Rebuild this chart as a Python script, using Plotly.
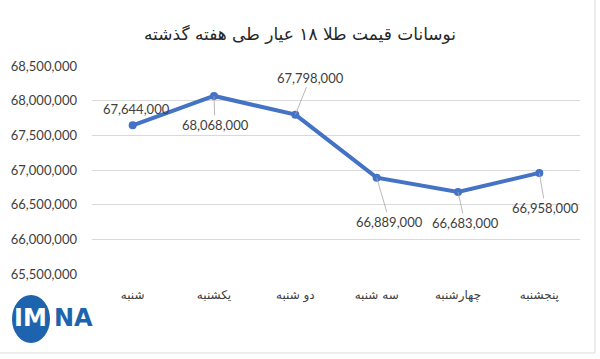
import plotly.graph_objects as go

categories = ["شنبه", "یکشنبه", "دو شنبه", "سه شنبه", "چهارشنبه", "پنجشنبه"]
prices = [67644000, 68068000, 67798000, 66889000, 66683000, 66958000]
title_text = "نوسانات قیمت طلا ۱۸ عیار طی هفته گذشته"
y_ticks = [65500000, 66000000, 66500000, 67000000, 67500000, 68000000, 68500000]

# label offsets (pixels) for data labels with leader lines
label_ax = [4, 1, 15, 13, 7, 6]
label_ay = [-16, 29, -37, 44, 31, 35]
show_leader = [False, True, True, True, True, True]

W, H = 600, 359
L, R, T, B = 92, 20, 66, 85

def px_to_paper_x(px):
    return (px - L) / (W - L - R)

def py_to_paper_y(py):
    return (H - B - py) / (H - T - B)

fig = go.Figure()
fig.add_trace(go.Scatter(
    x=categories, y=prices, mode="lines+markers",
    line=dict(color="#4472C4", width=4),
    marker=dict(color="#4472C4", size=8),
    hoverinfo="skip", showlegend=False,
))

for i, (c, v) in enumerate(zip(categories, prices)):
    fig.add_annotation(
        x=c, y=v, xref="x", yref="y",
        text=f"{v:,}",
        showarrow=True, arrowhead=0, arrowwidth=0.8,
        arrowcolor="#A6A6A6" if show_leader[i] else "rgba(0,0,0,0)",
        ax=label_ax[i], ay=label_ay[i],
        font=dict(family="Lato, DejaVu Sans", size=13, color="#404040"),
        standoff=0, startstandoff=0,
    )

# title
fig.add_annotation(
    x=px_to_paper_x(300), y=py_to_paper_y(34), xref="paper", yref="paper",
    xanchor="center", yanchor="middle",
    text=title_text, showarrow=False,
    font=dict(family="DejaVu Sans", size=17, color="#262626"),
)

# chart area border (right and bottom visible)
fig.add_shape(type="rect", xref="paper", yref="paper",
              x0=px_to_paper_x(-10), x1=px_to_paper_x(595),
              y0=py_to_paper_y(353), y1=py_to_paper_y(-10),
              line=dict(color="#D9D9D9", width=1), layer="below")

# logo approximation
fig.add_shape(type="circle", xref="paper", yref="paper",
              x0=px_to_paper_x(12), x1=px_to_paper_x(50),
              y0=py_to_paper_y(343), y1=py_to_paper_y(295),
              fillcolor="#1D63AE", line=dict(width=0))
fig.add_annotation(x=px_to_paper_x(12), y=py_to_paper_y(318), xref="paper", yref="paper",
                   xanchor="left", yanchor="middle", showarrow=False,
                   text="<b>IM</b>", font=dict(family="DejaVu Sans", size=24, color="white"))
fig.add_annotation(x=px_to_paper_x(52), y=py_to_paper_y(318), xref="paper", yref="paper",
                   xanchor="left", yanchor="middle", showarrow=False,
                   text="<b>NA</b>", font=dict(family="DejaVu Sans", size=24, color="#1D63AE"))

fig.update_layout(
    width=W, height=H,
    margin=dict(l=L, r=R, t=T, b=B),
    paper_bgcolor="white", plot_bgcolor="white",
    xaxis=dict(showgrid=False, showline=False, zeroline=False, ticks="",
               tickfont=dict(family="DejaVu Sans", size=12, color="#404040"),
               range=[-0.5, 5.5], ticklabelstandoff=12),
    yaxis=dict(range=[65500000, 68500000], tickvals=y_ticks,
               ticktext=[f"{t:,}" for t in y_ticks],
               showgrid=True, gridcolor="#D9D9D9", gridwidth=1,
               zeroline=False, showline=False, ticks="",
               tickfont=dict(family="Lato, DejaVu Sans", size=13, color="#404040"),
               ticklabelstandoff=14),
)

fig.write_html("out.html", config={"displayModeBar": False},
               post_script="document.body.style.margin='0';document.body.style.overflow='hidden';")
